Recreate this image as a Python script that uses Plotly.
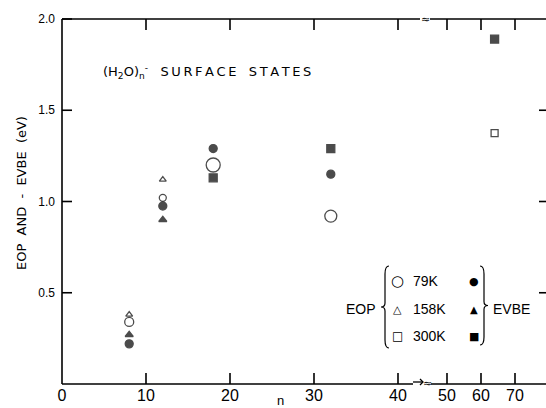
import plotly.graph_objects as go

# ---------------- data ----------------
BREAK_N = 43.4  # axis break between 40 and 50

N_EOP_79K = [8, 12, 18, 32]
EOP_79K = [0.34, 1.02, 1.20, 0.92]

N_EOP_158K = [8, 12]
EOP_158K = [0.38, 1.12]

N_EOP_300K = [64]
EOP_300K = [1.375]

N_EVBE_79K = [8, 12, 18, 32]
EVBE_79K = [0.22, 0.975, 1.29, 1.15]

N_EVBE_158K = [8, 12]
EVBE_158K = [0.27, 0.90]

N_EVBE_300K = [18, 32, 64]
EVBE_300K = [1.13, 1.29, 1.89]

X_TICKS_LEFT = [0, 10, 20, 30, 40]
X_TICKS_RIGHT = [50, 60, 70]
Y_TICKS = [0.5, 1.0, 1.5, 2.0]
Y_TICK_TEXT = ["0.5", "1.0", "1.5", "2.0"]
Y_TICKS_RIGHT = [0.5, 1.0, 1.5]

# ---------------- layout geometry ----------------
W, H = 546, 408
L, R, T, B = 62, 0, 19, 24
PW, PH = W - L - R, H - T - B
X_BREAK_PX = 425
Y_MAX = 2.0


def px(x):
    return (x - L) / PW


def py(y):
    return (H - B - y) / PH


INK = "#000000"
FONT = "DejaVu Sans"
TICKFONT = "Liberation Sans"

fig = go.Figure()


def add_series(ns, vals, symbol, sizes, name):
    if not isinstance(sizes, list):
        sizes = [sizes] * len(ns)
    left = [(n, v, s) for n, v, s in zip(ns, vals, sizes) if n < BREAK_N]
    right = [(n, v, s) for n, v, s in zip(ns, vals, sizes) if n >= BREAK_N]
    for pts, xa in ((left, "x"), (right, "x2")):
        if not pts:
            continue
        fig.add_trace(go.Scatter(
            x=[p[0] for p in pts], y=[p[1] for p in pts],
            xaxis=xa, yaxis="y", mode="markers", name=name,
            showlegend=False,
            marker=dict(symbol=symbol, size=[p[2] for p in pts], color=INK,
                        line=dict(color=INK, width=1.3)),
        ))


add_series(N_EOP_79K, EOP_79K, "circle-open", [9, 7, 14, 12], "EOP 79K")
add_series(N_EOP_158K, EOP_158K, "triangle-up-open", 6, "EOP 158K")
add_series(N_EOP_300K, EOP_300K, "square-open", 7, "EOP 300K")
add_series(N_EVBE_79K, EVBE_79K, "circle", 8, "EVBE 79K")
add_series(N_EVBE_158K, EVBE_158K, "triangle-up", 7, "EVBE 158K")
add_series(N_EVBE_300K, EVBE_300K, "square", 8, "EVBE 300K")

D1 = px(X_BREAK_PX)
X1_RANGE = [0, (X_BREAK_PX - L) / 8.4]
x2_start = 50 - (447 - X_BREAK_PX) / 3.4
X2_RANGE = [x2_start, x2_start + (W - X_BREAK_PX) / 3.4]


def xaxis_style(domain, rng, ticks):
    return dict(domain=domain, range=rng, tickvals=ticks, anchor="y",
                showline=False, ticks="", showgrid=False, zeroline=False,
                tickfont=dict(family=TICKFONT, size=16, color=INK))


fig.update_layout(
    width=W, height=H,
    margin=dict(l=L, r=R, t=T, b=B),
    paper_bgcolor="white", plot_bgcolor="rgba(0,0,0,0)",
    showlegend=False,
    xaxis=xaxis_style([0, D1], X1_RANGE, X_TICKS_LEFT),
    xaxis2=xaxis_style([D1, 1], X2_RANGE, X_TICKS_RIGHT),
    yaxis=dict(range=[0, Y_MAX], tickvals=Y_TICKS, ticktext=Y_TICK_TEXT,
               showline=False, ticks="", showgrid=False, zeroline=False,
               anchor="x", ticklabelstandoff=6,
               tickfont=dict(family=TICKFONT, size=12, color=INK)),
)


# axis value -> paper fraction (follows the axis ranges/domains above)
def x1p(v):
    return D1 * (v - X1_RANGE[0]) / (X1_RANGE[1] - X1_RANGE[0])


def x2p(v):
    return D1 + (1 - D1) * (v - X2_RANGE[0]) / (X2_RANGE[1] - X2_RANGE[0])


def yp(v):
    return v / Y_MAX


ann = []


def text(x, y, s, size=13, xanchor="center", font=FONT, angle=0, bg=None):
    d = dict(x=px(x), y=py(y), xref="paper", yref="paper", text=s,
             showarrow=False, xanchor=xanchor, yanchor="middle",
             textangle=angle,
             font=dict(family=font, size=size, color=INK))
    if bg:
        d["bgcolor"] = bg
        d["borderpad"] = 0
    ann.append(d)


ts = "\u2009"
title = ("(H<sub>2</sub>O)<sub>n</sub><sup>-</sup>" + "   "
         + ts.join("SURFACE") + "   " + ts.join("STATES"))
text(101, 72, title, size=13, xanchor="left")

text(21, 193, "EOP  AND  -  EVBE  (eV)", size=13, angle=-90)
text(280, 400, "n", size=13, font=TICKFONT)

# legend
rows = [(281, "○", "79K", "●"), (309, "△", "158K", "▲"), (336, "□", "300K", "■")]
for y, o, lab, f in rows:
    text(397, y, o, size={"○": 15, "△": 11, "□": 12}[o])
    text(411, y, lab, size=14, xanchor="left", font=TICKFONT)
    text(474, y, f, size={"●": 11, "▲": 10, "■": 11}[f])
text(378, 309, "EOP", size=14, xanchor="right", font=TICKFONT)
text(491, 309, "EVBE", size=14, xanchor="left", font=TICKFONT)

LW = 1.6
shapes = []
tx = 11 / PH
ty = 10 / PW


def seg(pts, width=LW):
    shapes.append(dict(
        type="path", xref="paper", yref="paper",
        path="M " + " L ".join(f"{a:.5f},{b:.5f}" for a, b in pts),
        line=dict(color=INK, width=width)))


seg([(0, 1), (0, 0)])                      # left axis
seg([(0, 0), (px(X_BREAK_PX - 12), 0)])    # bottom, left part
seg([(px(X_BREAK_PX + 6), 0), (1, 0)])     # bottom, right part
seg([(0, 1), (px(X_BREAK_PX - 5), 1)])     # top, left part
seg([(px(X_BREAK_PX + 5), 1), (1, 1)])     # top, right part
for v in X_TICKS_LEFT[1:]:
    seg([(x1p(v), 0), (x1p(v), tx)])
    seg([(x1p(v), 1), (x1p(v), 1 - tx)])
for v in X_TICKS_RIGHT:
    seg([(x2p(v), 0), (x2p(v), tx)])
    seg([(x2p(v), 1), (x2p(v), 1 - tx)])
for v in Y_TICKS:
    seg([(0, yp(v)), (ty, yp(v))])
for v in Y_TICKS_RIGHT:
    seg([(1, yp(v)), (1 - 7 / PW, yp(v))])

# break marks
bx = X_BREAK_PX
seg([(px(bx - 12), py(H - B - 2)), (px(bx - 2), py(H - B - 2))], 1.3)
seg([(px(bx - 5), py(H - B - 5)), (px(bx - 2), py(H - B - 2)),
     (px(bx - 5), py(H - B + 1))], 1.3)
text(bx + 2, H - B - 1, "≈", size=11)
text(bx, T + 1, "≈", size=11)


def brace(x_tip, x_end, y0, y1):
    ym = (y0 + y1) / 2
    xm = (x_tip + x_end) / 2
    d = 8
    pts = [
        ("M", x_end, y0),
        ("Q", xm, y0, xm, y0 + d),
        ("L", xm, ym - d / 2),
        ("Q", xm, ym, x_tip, ym),
        ("Q", xm, ym, xm, ym + d / 2),
        ("L", xm, y1 - d),
        ("Q", xm, y1, x_end, y1),
    ]
    s = ""
    for p in pts:
        s += p[0]
        coords = p[1:]
        for i in range(0, len(coords), 2):
            s += f" {px(coords[i]):.5f},{py(coords[i + 1]):.5f}"
        s += " "
    return dict(type="path", path=s.strip(), xref="paper", yref="paper",
                line=dict(color=INK, width=1.2))


shapes += [brace(381, 389, 266, 348), brace(488, 480, 266, 345)]

fig.update_layout(annotations=ann, shapes=shapes)

fig.write_html("out.html")
